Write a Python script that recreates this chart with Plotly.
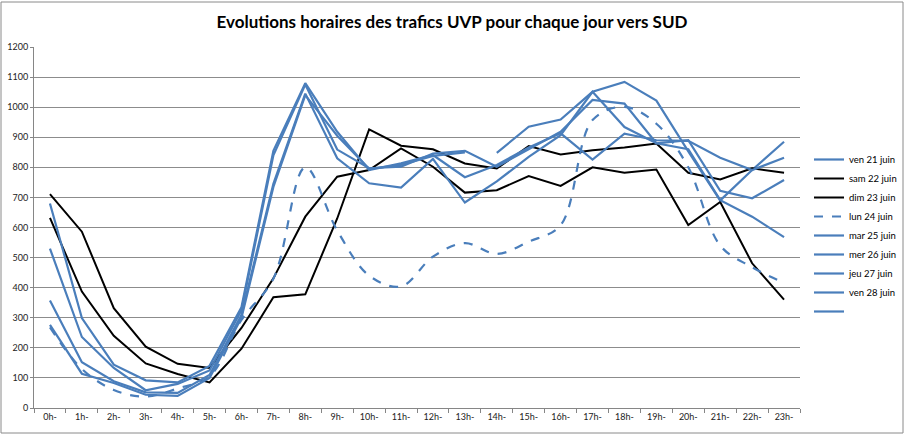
import plotly.graph_objects as go

hours = [f"{h}h-" for h in range(24)]

ven_21 = [None] * 14 + [848, 935, 959, 1051, 1084, 1022, 853, 690, 791, 885]
sam_22 = [632, 387, 240, 148, 113, 85, 197, 368, 378, 630, 926, 872, 860, 813, 796, 871, 843, 857, 866, 879, 782, 760, 797, 782]
dim_23 = [711, 586, 332, 204, 147, 133, 266, 431, 636, 769, 791, 863, 802, 716, 724, 771, 738, 800, 782, 793, 608, 685, 481, 360]
lun_24 = [268, 130, 60, 38, 65, 105, 293, 430, 800, 590, 440, 404, 503, 548, 512, 553, 608, 957, 1001, 945, 800, 540, 468, 416]
mar_25 = [680, 299, 144, 92, 85, 140, 335, 855, 1080, 918, 791, 813, 841, 767, 808, 866, 913, 826, 912, 890, 888, 832, 791, 832]
mer_26 = [530, 236, 133, 59, 80, 125, 325, 840, 1075, 859, 797, 802, 846, 855, 802, 860, 918, 1024, 1012, 880, 890, 722, 697, 758]
jeu_27 = [357, 152, 89, 52, 50, 110, 310, 745, 1045, 830, 747, 733, 828, 683, 753, 835, 907, 1051, 934, 880, 860, 691, 636, 568]
ven_28 = [276, 114, 83, 44, 40, 100, 300, 735, 1040, 905, 795, 808, 838, 850] + [None] * 10
empty = [None] * 24

BLUE = "#4a7ebb"
BLACK = "#000000"

series = [
    ("ven 21 juin", ven_21, BLUE, "solid", "linear"),
    ("sam 22 juin", sam_22, BLACK, "solid", "linear"),
    ("dim 23 juin", dim_23, BLACK, "solid", "linear"),
    ("lun 24 juin", lun_24, BLUE, "dash", "spline"),
    ("mar 25 juin", mar_25, BLUE, "solid", "linear"),
    ("mer 26 juin", mer_26, BLUE, "solid", "linear"),
    ("jeu 27 juin", jeu_27, BLUE, "solid", "linear"),
    ("ven 28 juin", ven_28, BLUE, "solid", "linear"),
    (" ", empty, BLUE, "solid", "linear"),
]

fig = go.Figure()
for name, vals, color, dash, shape in series:
    fig.add_trace(go.Scatter(
        x=hours, y=vals, name=name, mode="lines",
        line=dict(color=color, width=2.2 if color == BLUE else 2, dash=dash, shape=shape),
        connectgaps=False, showlegend=True,
    ))

L, R, T, B = 34, 104, 47, 32
PW, PH = 904 - L - R, 440 - T - B

fig.update_layout(
    width=904, height=440,
    margin=dict(l=L, r=R, t=T, b=B, autoexpand=False),
    paper_bgcolor="white", plot_bgcolor="white",
    font=dict(family="Lato, Arial, sans-serif", size=9, color="#222"),
    title=dict(text="<b>Evolutions horaires des trafics UVP pour chaque jour vers SUD</b>",
               x=452 / 904, xref="container", y=1 - 22 / 440, yref="container",
               xanchor="center", yanchor="middle", automargin=False,
               font=dict(family="Lato, Arial, sans-serif", size=17, color="#000")),
    showlegend=True,
    legend=dict(x=(809 - L) / PW, xanchor="left", y=(408 - 145) / PH, yanchor="top",
                font=dict(family="Lato, Arial, sans-serif", size=9.5, color="#000"),
                bgcolor="rgba(0,0,0,0)", traceorder="normal", itemwidth=30),
)
fig.update_xaxes(type="category", range=[-0.5, 23.5], showgrid=False, showline=True,
                 linecolor="#868686", linewidth=1, ticks="outside", tickson="boundaries",
                 ticklen=4, tickcolor="#868686", tickfont=dict(size=9), automargin=False)
fig.update_yaxes(range=[0, 1200], dtick=100, showgrid=True, gridcolor="#8c8c8c", gridwidth=1,
                 showline=True, linecolor="#868686", linewidth=1, ticks="outside", ticklen=3,
                 tickcolor="#868686", zeroline=False, tickfont=dict(size=9), automargin=False)

fig.add_shape(type="rect", xref="paper", yref="paper",
              x0=(1 - L) / PW, x1=(903 - L) / PW,
              y0=(408 - 433) / PH, y1=(408 - 2) / PH,
              line=dict(color="#8a8a8a", width=1), fillcolor="rgba(0,0,0,0)", layer="above")

fig.write_html("out.html", config={"displayModeBar": False},
               post_script="document.body.style.margin='0';document.body.style.overflow='hidden';")
